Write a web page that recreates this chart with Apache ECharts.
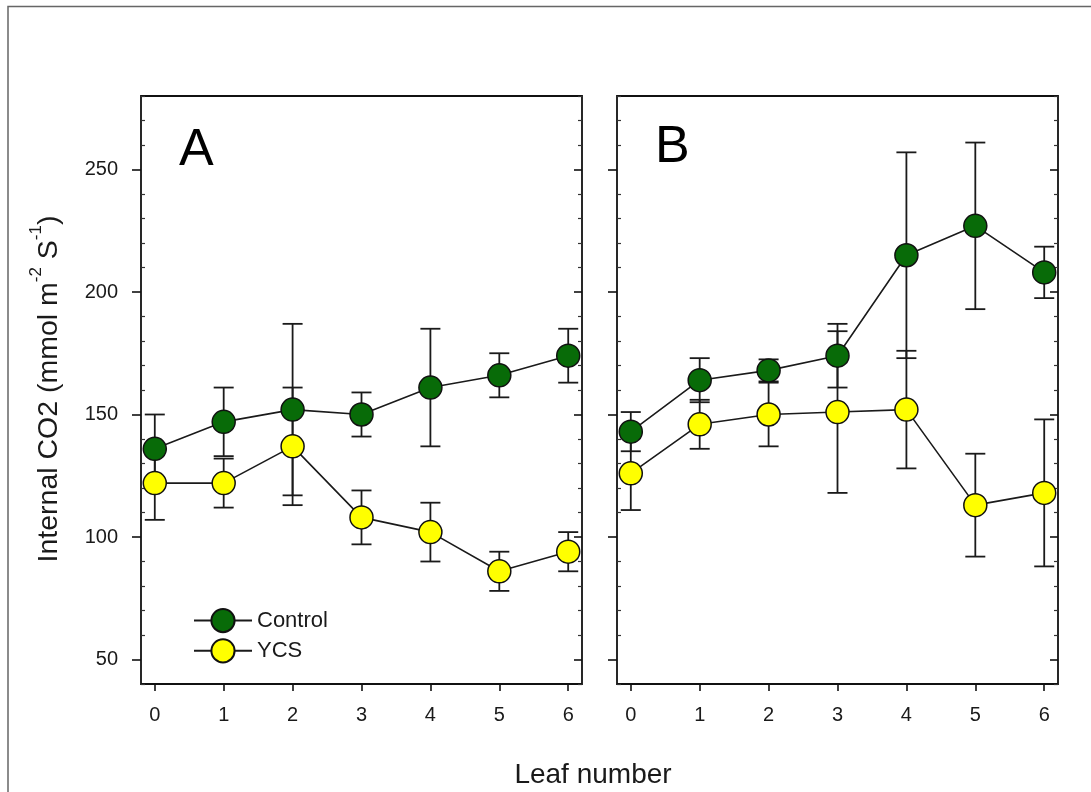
<!DOCTYPE html>
<html>
<head>
<meta charset="utf-8">
<script src="https://cdn.jsdelivr.net/npm/echarts@6/dist/echarts.min.js"></script>
<style>
  html, body { margin: 0; padding: 0; background: #fff; }
  #chart { width: 1091px; height: 792px; }
</style>
</head>
<body>
<div id="chart"></div>
<script>
// leaf numbers on the x axis
var leaves = [0, 1, 2, 3, 4, 5, 6];

// panel A
var controlA = [136, 147, 152, 150, 161, 166, 174];
var controlAErr = [14, 14, 35, 9, 24, 9, 11];
var ycsA = [122, 122, 137, 108, 102, 86, 94];
var ycsAErr = [15, 10, 24, 11, 12, 8, 8];

// panel B
var controlB = [143, 164, 168, 174, 215, 227, 208];
var controlBErr = [8, 9, 4.5, 13, 42, 34, 10.5];
var ycsB = [126, 146, 150, 151, 152, 113, 118];
var ycsBErr = [15, 10, 13, 33, 24, 21, 30];

var yMajor = [50, 100, 150, 200, 250];
var yMinor = [];
for (var v = 40; v <= 280; v += 10) {
    if (v % 50 !== 0) yMinor.push(v);
}

var FONT = 'Liberation Sans, Arial, sans-serif';
var GREEN = '#086b08';
var YELLOW = '#ffff00';

function points(vals) {
    return leaves.map(function (x, i) { return [x, vals[i]]; });
}
function bars(vals, errs) {
    return leaves.map(function (x, i) { return [x, vals[i] - errs[i], vals[i] + errs[i]]; });
}

function errorBar(params, api) {
    var x = api.value(0);
    var lo = api.coord([x, api.value(1)]);
    var hi = api.coord([x, api.value(2)]);
    var w = 10;
    var st = { stroke: '#1a1a1a', lineWidth: 1.8 };
    return {
        type: 'group',
        children: [
            { type: 'line', shape: { x1: lo[0], y1: lo[1], x2: hi[0], y2: hi[1] }, style: st },
            { type: 'line', shape: { x1: lo[0] - w, y1: lo[1], x2: lo[0] + w, y2: lo[1] }, style: st },
            { type: 'line', shape: { x1: hi[0] - w, y1: hi[1], x2: hi[0] + w, y2: hi[1] }, style: st }
        ]
    };
}

function yAxes(grid) {
    var base = {
        type: 'value', gridIndex: grid, min: 40, max: 280,
        splitLine: { show: false }, axisLine: { show: false, onZero: false }
    };
    return [
        Object.assign({}, base, {
            position: 'left',
            axisTick: { show: true, inside: false, length: 9, customValues: yMajor, lineStyle: { color: '#111', width: 1.6 } },
            axisLabel: { show: grid === 0, customValues: yMajor, margin: 23, fontSize: 20, color: '#1a1a1a', fontFamily: FONT }
        }),
        Object.assign({}, base, {
            position: 'left',
            axisTick: { show: true, inside: true, length: 4, customValues: yMinor, lineStyle: { color: '#333', width: 1.2 } },
            axisLabel: { show: false }
        }),
        Object.assign({}, base, {
            position: 'right',
            axisTick: { show: true, inside: true, length: 8, customValues: yMajor, lineStyle: { color: '#111', width: 1.6 } },
            axisLabel: { show: false }
        }),
        Object.assign({}, base, {
            position: 'right',
            axisTick: { show: true, inside: true, length: 4, customValues: yMinor, lineStyle: { color: '#333', width: 1.2 } },
            axisLabel: { show: false }
        })
    ];
}

function xAxis(grid) {
    return {
        type: 'value', gridIndex: grid, min: -0.2, max: 6.2,
        splitLine: { show: false }, axisLine: { show: false, onZero: false },
        axisTick: { show: true, inside: false, length: 7, customValues: leaves, lineStyle: { color: '#111', width: 1.6 } },
        axisLabel: { customValues: leaves, margin: 21, fontSize: 20, color: '#1a1a1a', fontFamily: FONT }
    };
}

function lineSeries(name, vals, color, xi, yi) {
    return {
        name: name, type: 'line', xAxisIndex: xi, yAxisIndex: yi, z: 5,
        data: points(vals),
        symbol: 'circle', symbolSize: 23,
        lineStyle: { color: '#1a1a1a', width: 1.6 },
        itemStyle: { color: color, borderColor: '#111', borderWidth: 1.5 },
        emphasis: { disabled: true }
    };
}

function barSeries(vals, errs, xi, yi) {
    return {
        type: 'custom', xAxisIndex: xi, yAxisIndex: yi, z: 3,
        renderItem: errorBar,
        encode: { x: 0, y: [1, 2] },
        data: bars(vals, errs),
        silent: true
    };
}

var myChart = echarts.init(document.getElementById('chart'));
var option = {
    animation: false,
    backgroundColor: '#fff',
    textStyle: { fontFamily: FONT },
    grid: [
        { left: 141, top: 96, width: 441, height: 588, show: true, borderColor: '#111', borderWidth: 1.8 },
        { left: 617, top: 96, width: 441, height: 588, show: true, borderColor: '#111', borderWidth: 1.8 }
    ],
    xAxis: [xAxis(0), xAxis(1)],
    yAxis: yAxes(0).concat(yAxes(1)),
    legend: {
        data: ['Control', 'YCS'],
        orient: 'vertical',
        left: 188, top: 603,
        itemWidth: 58, itemHeight: 29, itemGap: 5,
        textStyle: { fontSize: 22, color: '#1a1a1a', fontFamily: FONT },
        selectedMode: false
    },
    series: [
        barSeries(controlA, controlAErr, 0, 0),
        barSeries(ycsA, ycsAErr, 0, 0),
        lineSeries('Control', controlA, GREEN, 0, 0),
        lineSeries('YCS', ycsA, YELLOW, 0, 0),
        barSeries(controlB, controlBErr, 1, 4),
        barSeries(ycsB, ycsBErr, 1, 4),
        lineSeries('Control', controlB, GREEN, 1, 4),
        lineSeries('YCS', ycsB, YELLOW, 1, 4)
    ],
    graphic: [
        { type: 'polyline', shape: { points: [[8, 792], [8, 6.5], [1091, 6.5]] }, style: { stroke: '#666', lineWidth: 1.5, fill: null } },
        { type: 'text', x: 179, y: 125, style: { text: 'A', font: '52px ' + FONT, fill: '#000' } },
        { type: 'text', x: 655, y: 122, style: { text: 'B', font: '52px ' + FONT, fill: '#000' } },
        { type: 'text', x: 593, y: 775, style: { text: 'Leaf number', font: '28px ' + FONT, fill: '#1a1a1a', align: 'center', verticalAlign: 'middle' } },
        {
            type: 'text', x: 46, y: 389, rotation: Math.PI / 2,
            style: {
                text: '{n|Internal CO2 (mmol m}{s|-2}{n| S}{s|-1}{n|)}',
                align: 'center', verticalAlign: 'middle', fill: '#1a1a1a',
                rich: {
                    n: { fontSize: 28.5, fontFamily: FONT, fill: '#1a1a1a', lineHeight: 36, verticalAlign: 'bottom' },
                    s: { fontSize: 17, fontFamily: FONT, fill: '#1a1a1a', lineHeight: 36, verticalAlign: 'top' }
                }
            }
        }
    ]
};
myChart.setOption(option);
window.onresize = function () {
    myChart.resize();
};
</script>
</body>
</html>
